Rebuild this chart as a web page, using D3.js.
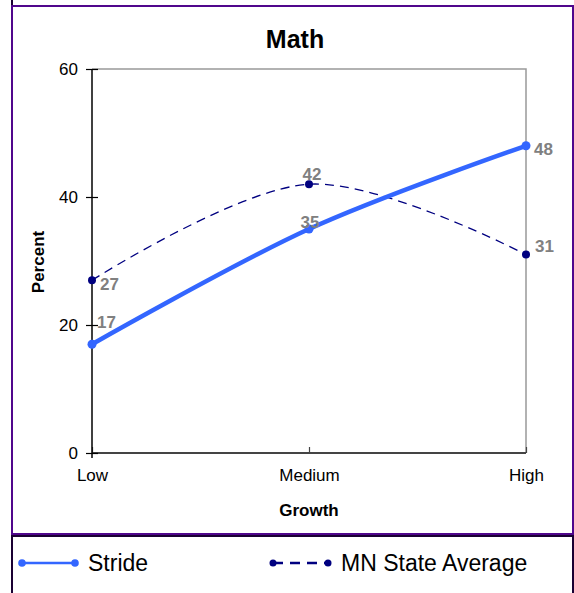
<!DOCTYPE html>
<html><head><meta charset="utf-8">
<script src="https://cdn.jsdelivr.net/npm/d3@7"></script>
<style>html,body{margin:0;padding:0;background:#fff;overflow:hidden}</style>
</head><body>
<svg id="c" width="574" height="593"></svg>
<script>
const categories = ["Low", "Medium", "High"];
const strideValues = [17, 35, 48];
const stateValues = [27, 42, 31];
const yTicks = [0, 20, 40, 60];
const seriesNames = ["Stride", "MN State Average"];
const title = "Math";
const xTitle = "Growth";
const yTitle = "Percent";

const FONT = "'Liberation Sans', Arial, sans-serif";
const svg = d3.select("#c");

// frames
svg.append("line").attr("x1",12).attr("x2",12).attr("y1",0).attr("y2",6).attr("stroke","#1a0033").attr("stroke-width",2);
svg.append("rect").attr("x",12).attr("y",6).attr("width",561).attr("height",528)
  .attr("fill","#fff").attr("stroke","#50068c").attr("stroke-width",2);
svg.append("rect").attr("x",12).attr("y",536).attr("width",561).attr("height",70)
  .attr("fill","#fff").attr("stroke","#1a0033").attr("stroke-width",2);

const x = d3.scalePoint().domain(categories).range([92, 526]);
const y = d3.scaleLinear().domain([0, 60]).range([453, 69]);

// plot border (top/right)
svg.append("path").attr("d", `M${x("Low")},${y(60)}H${x("High")}V${y(0)}`)
  .attr("fill","none").attr("stroke","#999").attr("stroke-width",1.5);

// x axis
const xAxis = svg.append("g").attr("transform",`translate(0,${y(0)})`)
  .call(d3.axisBottom(x).tickSize(-6).tickPadding(16));
xAxis.select(".domain").attr("stroke","#444").attr("stroke-width",2).attr("d",`M${x("Low")},0H${x("High")}`);
xAxis.selectAll(".tick line").attr("stroke","#444").attr("stroke-width",1.2);
xAxis.selectAll("text").attr("font-family",FONT).attr("font-size",17).attr("fill","#000");

// y axis
const yAxis = svg.append("g").attr("transform",`translate(${x("Low")},0)`)
  .call(d3.axisLeft(y).tickValues(yTicks).tickSize(6).tickPadding(8));
yAxis.select(".domain").attr("stroke","#000").attr("stroke-width",1.5).attr("d",`M0,${y(60)}V${y(0)+5}`);
yAxis.selectAll(".tick line").attr("stroke","#000").attr("x1",6).attr("x2",-6).attr("stroke-width",1.2);
yAxis.selectAll("text").attr("font-family",FONT).attr("font-size",17).attr("fill","#000");

// titles
svg.append("text").attr("x",295).attr("y",48).attr("text-anchor","middle")
  .attr("font-family",FONT).attr("font-weight","bold").attr("font-size",25).text(title);
svg.append("text").attr("x",309).attr("y",516).attr("text-anchor","middle")
  .attr("font-family",FONT).attr("font-weight","bold").attr("font-size",17).text(xTitle);
svg.append("text").attr("transform","translate(44,262) rotate(-90)").attr("text-anchor","middle")
  .attr("font-family",FONT).attr("font-weight","bold").attr("font-size",17).text(yTitle);

const stride = categories.map((c,i)=>({c, v: strideValues[i]}));
const state = categories.map((c,i)=>({c, v: stateValues[i]}));
const line = d3.line().x(d=>x(d.c)).y(d=>y(d.v)).curve(d3.curveCatmullRom.alpha(0));

const BLUE = "#3366ff", NAVY = "#000080", GRAY = "#808080";

svg.append("path").datum(state).attr("d",line).attr("fill","none")
  .attr("stroke",NAVY).attr("stroke-width",1.3).attr("stroke-dasharray","9,6");
svg.append("path").datum(stride).attr("d",line).attr("fill","none")
  .attr("stroke",BLUE).attr("stroke-width",4.5);

svg.selectAll(".sm").data(state).enter().append("circle")
  .attr("cx",d=>x(d.c)).attr("cy",d=>y(d.v)).attr("r",4).attr("fill",NAVY);
svg.selectAll(".bm").data(stride).enter().append("circle")
  .attr("cx",d=>x(d.c)).attr("cy",d=>y(d.v)).attr("r",4.5).attr("fill",BLUE);

// data labels (placement offsets per point)
const strideOff = [[5,-22,"start"],[1,-7,"middle"],[8,3,"start"]];
const stateOff = [[8,4,"start"],[3,-10,"middle"],[9,-9,"start"]];
function labels(data, off){
  svg.selectAll(null).data(data).enter().append("text")
    .attr("x",(d,i)=>x(d.c)+off[i][0]).attr("y",(d,i)=>y(d.v)+off[i][1])
    .attr("dy","0.35em").attr("text-anchor",(d,i)=>off[i][2])
    .attr("font-family",FONT).attr("font-weight","bold").attr("font-size",17)
    .attr("fill",GRAY).text(d=>d.v);
}
labels(stride, strideOff);
labels(state, stateOff);

// legend
const lg = svg.append("g");
lg.append("line").attr("x1",22).attr("x2",75).attr("y1",563).attr("y2",563).attr("stroke",BLUE).attr("stroke-width",2.5);
[22,75].forEach(cx=>lg.append("circle").attr("cx",cx).attr("cy",563).attr("r",3.8).attr("fill",BLUE));
lg.append("text").attr("x",88).attr("y",563).attr("dy","0.35em").attr("font-family",FONT).attr("font-size",23).text(seriesNames[0]);
lg.append("line").attr("x1",273).attr("x2",328).attr("y1",563).attr("y2",563).attr("stroke",NAVY).attr("stroke-width",2.5).attr("stroke-dasharray","10,7");
[273,328].forEach(cx=>lg.append("circle").attr("cx",cx).attr("cy",563).attr("r",3.5).attr("fill",NAVY));
lg.append("text").attr("x",341).attr("y",563).attr("dy","0.35em").attr("font-family",FONT).attr("font-size",23).text(seriesNames[1]);
</script>
</body></html>
